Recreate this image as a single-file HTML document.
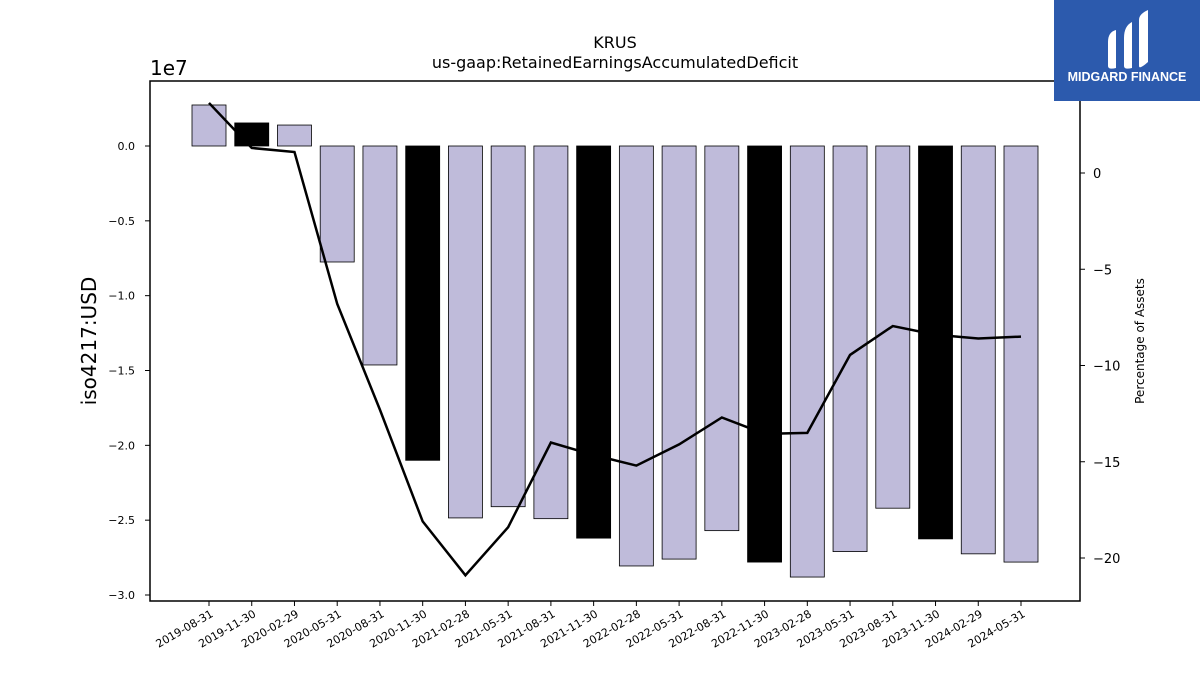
<!DOCTYPE html>
<html><head><meta charset="utf-8"><style>
body{margin:0;background:#fff;font-family:"Liberation Sans","DejaVu Sans",sans-serif}
</style></head><body>
<svg id="c" width="1200" height="675" xmlns="http://www.w3.org/2000/svg" style="font-family:'DejaVu Sans','Liberation Sans',sans-serif">
<rect width="1200" height="675" fill="#fff"/>
<text x="615" y="48" text-anchor="middle" font-size="16">KRUS</text>
<text x="615" y="68" text-anchor="middle" font-size="16">us-gaap:RetainedEarningsAccumulatedDeficit</text>
<text x="150" y="75" font-size="20">1e7</text>
<text transform="translate(96,341) rotate(-90)" text-anchor="middle" font-size="20">iso4217:USD</text>
<text transform="translate(1144,341) rotate(-90)" text-anchor="middle" font-size="12">Percentage of Assets</text>
<g id="bars"></g><g id="line"></g><g id="axes"></g>
<rect x="150" y="81" width="930" height="520" fill="none" stroke="#000" stroke-width="1.5"/>
<g>
<rect x="1054" y="0" width="146" height="101" fill="#2c5aad"/>
<path d="M1108 42 Q1108 32 1116 30 L1116 68 Q1108 70 1108 66 Z M1124 38 Q1124 26 1132 22 L1132 68 Q1124 70 1124 66 Z M1139 20 Q1139 14 1148 10 L1148 62 Q1139 70 1139 66 Z" fill="#fff"/>
<text x="1127" y="81" text-anchor="middle" font-size="12.5" font-weight="bold" fill="#fff" font-family="Liberation Sans,sans-serif">MIDGARD FINANCE</text>
</g>
</svg>
<script>
const dates=["2019-08-31","2019-11-30","2020-02-29","2020-05-31","2020-08-31","2020-11-30","2021-02-28","2021-05-31","2021-08-31","2021-11-30","2022-02-28","2022-05-31","2022-08-31","2022-11-30","2023-02-28","2023-05-31","2023-08-31","2023-11-30","2024-02-29","2024-05-31"];
const retained=[0.274,0.154,0.14,-0.775,-1.463,-2.10,-2.485,-2.41,-2.49,-2.62,-2.806,-2.76,-2.57,-2.78,-2.88,-2.71,-2.42,-2.625,-2.725,-2.78];
const pctAssets=[3.64,1.3,1.09,-6.8,-12.3,-18.1,-20.9,-18.4,-14.0,-14.65,-15.2,-14.1,-12.7,-13.55,-13.5,-9.45,-7.95,-8.4,-8.6,-8.5];
const leftTicks=[0.0,-0.5,-1.0,-1.5,-2.0,-2.5,-3.0];
const leftTickLabels=["0.0","\u22120.5","\u22121.0","\u22121.5","\u22122.0","\u22122.5","\u22123.0"];
const rightTicks=[0,-5,-10,-15,-20];
const rightTickLabels=["0","\u22125","\u221210","\u221215","\u221220"];
const NS="http://www.w3.org/2000/svg";
function mk(t,a,p){const e=document.createElementNS(NS,t);for(const k in a)e.setAttribute(k,a[k]);p.appendChild(e);return e;}
const yL=v=>146-v*(449/3);
const yR=v=>173-v*19.25;
const xC=i=>209+i*(1021-209)/(dates.length-1);
const bw=34;
const bars=document.getElementById('bars'),line=document.getElementById('line'),axes=document.getElementById('axes');
retained.forEach((v,i)=>{
 const y0=yL(0),y1=yL(v);
 const r=mk('rect',{x:xC(i)-bw/2,y:Math.min(y0,y1),width:bw,height:Math.abs(y1-y0),fill:(i%4===1)?'#000':'#bfbbda',stroke:'#000','stroke-width':0.8},bars);
 
 
});
const pl=mk('polyline',{points:pctAssets.map((v,i)=>xC(i)+','+yR(v)).join(' '),fill:'none',stroke:'#000','stroke-width':2.5},line);


leftTicks.forEach((v,i)=>{
 mk('line',{x1:145,x2:150,y1:yL(v),y2:yL(v),stroke:'#000'},axes);
 const t=mk('text',{x:135,y:yL(v)+4,'text-anchor':'end','font-size':11},axes);t.textContent=leftTickLabels[i];
 
 
});
rightTicks.forEach((v,i)=>{
 mk('line',{x1:1080,x2:1085,y1:yR(v),y2:yR(v),stroke:'#000'},axes);
 const t=mk('text',{x:1093,y:yR(v)+5,'font-size':13},axes);t.textContent=rightTickLabels[i];
 
 
});
dates.forEach((d,i)=>{
 mk('line',{x1:xC(i),x2:xC(i),y1:601,y2:606,stroke:'#000'},axes);
 const t=mk('text',{transform:`translate(${xC(i)+5},616) rotate(-30)`,'text-anchor':'end','font-size':11},axes);t.textContent=d;
 
 
});
</script>
</body></html>
